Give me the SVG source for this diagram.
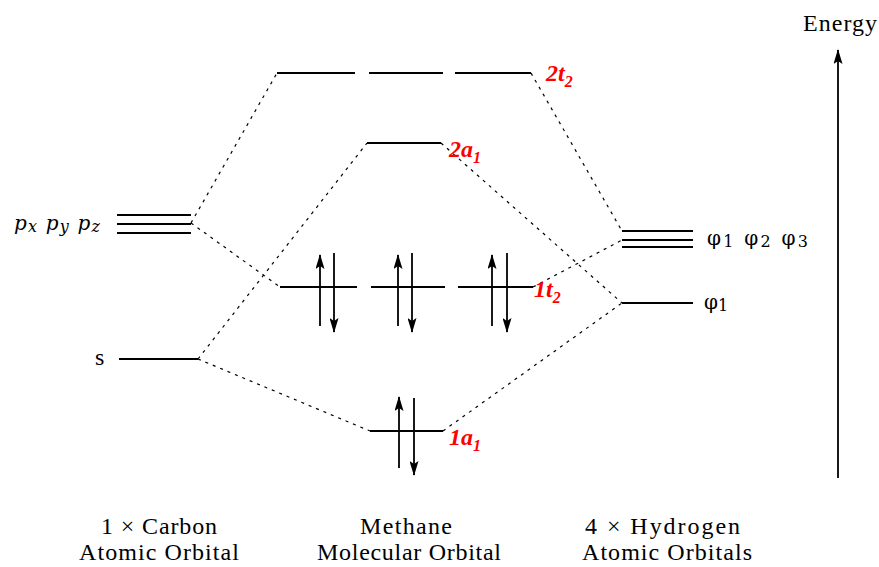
<svg xmlns="http://www.w3.org/2000/svg" width="879" height="567" viewBox="0 0 879 567">
<defs>
<marker id="ah" markerWidth="15" markerHeight="9" refX="14" refY="4.5" orient="auto" markerUnits="userSpaceOnUse" viewBox="0 0 15 9">
<path d="M15,4.5 L0,0 L3,4.5 L0,9 Z" fill="#000"/>
</marker>
</defs>
<style>
.lvl{stroke:#000;stroke-width:2;fill:none}
.dash{stroke:#000;stroke-width:1.2;stroke-dasharray:3,5;fill:none}
.spin{stroke:#000;stroke-width:1.8;fill:none}
.lab{font-family:"Liberation Serif",serif;font-size:24px;fill:#000}
.orb{font-family:"DejaVu Serif","Liberation Serif",serif;font-size:20px;fill:#000}
.mo{font-family:"Liberation Serif",serif;font-size:24px;font-weight:bold;font-style:italic;fill:#ff0000}
.sub{font-size:16px}
</style>
<rect width="879" height="567" fill="#fff"/>
<g id="connectors">
<line class="dash" x1="191" y1="223" x2="277" y2="73"/>
<line class="dash" x1="191" y1="223" x2="280" y2="287"/>
<line class="dash" x1="198" y1="359" x2="367" y2="143"/>
<line class="dash" x1="198" y1="359" x2="370" y2="431"/>
<line class="dash" x1="531" y1="73" x2="622" y2="231"/>
<line class="dash" x1="441" y1="143" x2="622" y2="303"/>
<line class="dash" x1="533" y1="287" x2="622" y2="240"/>
<line class="dash" x1="443" y1="431" x2="622" y2="303"/>
</g>
<g id="carbon-p">
<line class="lvl" x1="117" y1="215" x2="191" y2="215"/>
<line class="lvl" x1="117" y1="224" x2="191" y2="224"/>
<line class="lvl" x1="117" y1="233" x2="191" y2="233"/>
<text class="orb" x="14" y="230" font-style="italic" textLength="86">p<tspan class="sub" dy="2">x</tspan><tspan dy="-2"> p</tspan><tspan class="sub" dy="2">y</tspan><tspan dy="-2"> p</tspan><tspan class="sub" dy="2">z</tspan></text>
</g>
<g id="carbon-s">
<line class="lvl" x1="119" y1="359" x2="198" y2="359"/>
<text class="lab" x="95" y="365">s</text>
</g>
<g id="mo-2t2">
<line class="lvl" x1="277" y1="73" x2="355" y2="73"/>
<line class="lvl" x1="369" y1="73" x2="443" y2="73"/>
<line class="lvl" x1="455" y1="73" x2="531" y2="73"/>
<text class="mo" x="546" y="81">2t<tspan class="sub" dy="6">2</tspan></text>
</g>
<g id="mo-2a1">
<line class="lvl" x1="367" y1="143" x2="441" y2="143"/>
<text class="mo" x="449" y="157">2a<tspan class="sub" dy="6">1</tspan></text>
</g>
<g id="mo-1t2">
<line class="lvl" x1="280" y1="287" x2="357" y2="287"/>
<line class="lvl" x1="371" y1="287" x2="445" y2="287"/>
<line class="lvl" x1="458" y1="287" x2="533" y2="287"/>
<line class="spin" x1="320" y1="326" x2="320" y2="255" marker-end="url(#ah)"/>
<line class="spin" x1="334" y1="253" x2="334" y2="332" marker-end="url(#ah)"/>
<line class="spin" x1="398" y1="326" x2="398" y2="255" marker-end="url(#ah)"/>
<line class="spin" x1="412" y1="253" x2="412" y2="332" marker-end="url(#ah)"/>
<line class="spin" x1="492" y1="326" x2="492" y2="255" marker-end="url(#ah)"/>
<line class="spin" x1="507" y1="253" x2="507" y2="332" marker-end="url(#ah)"/>
<text class="mo" x="534" y="297">1t<tspan class="sub" dy="6">2</tspan></text>
</g>
<g id="mo-1a1">
<line class="lvl" x1="370" y1="431" x2="443" y2="431"/>
<line class="spin" x1="399" y1="468" x2="399" y2="397" marker-end="url(#ah)"/>
<line class="spin" x1="414" y1="398" x2="414" y2="475" marker-end="url(#ah)"/>
<text class="mo" x="449" y="445">1a<tspan class="sub" dy="6">1</tspan></text>
</g>
<g id="h-triplet">
<line class="lvl" x1="622" y1="231" x2="693" y2="231"/>
<line class="lvl" x1="622" y1="240" x2="693" y2="240"/>
<line class="lvl" x1="622" y1="247" x2="693" y2="247"/>
<text class="orb" x="707" y="245" textLength="101">φ<tspan class="sub" dy="2">1</tspan><tspan dy="-2"> φ</tspan><tspan class="sub" dy="2">2</tspan><tspan dy="-2"> φ</tspan><tspan class="sub" dy="2">3</tspan></text>
</g>
<g id="h-single">
<line class="lvl" x1="622" y1="303" x2="693" y2="303"/>
<text class="orb" x="704" y="309">φ<tspan class="sub" dy="2">1</tspan></text>
</g>
<g id="energy">
<line class="spin" x1="838" y1="478" x2="838" y2="50" marker-end="url(#ah)"/>
<text class="lab" x="803" y="31" textLength="74">Energy</text>
</g>
<g id="captions">
<text class="lab" x="101" y="534" textLength="116">1 × Carbon</text>
<text class="lab" x="79" y="560" textLength="160">Atomic Orbital</text>
<text class="lab" x="360" y="534" textLength="92">Methane</text>
<text class="lab" x="317" y="560" textLength="184">Molecular Orbital</text>
<text class="lab" x="585" y="534" textLength="155">4 × Hydrogen</text>
<text class="lab" x="582" y="560" textLength="170">Atomic Orbitals</text>
</g>
</svg>
